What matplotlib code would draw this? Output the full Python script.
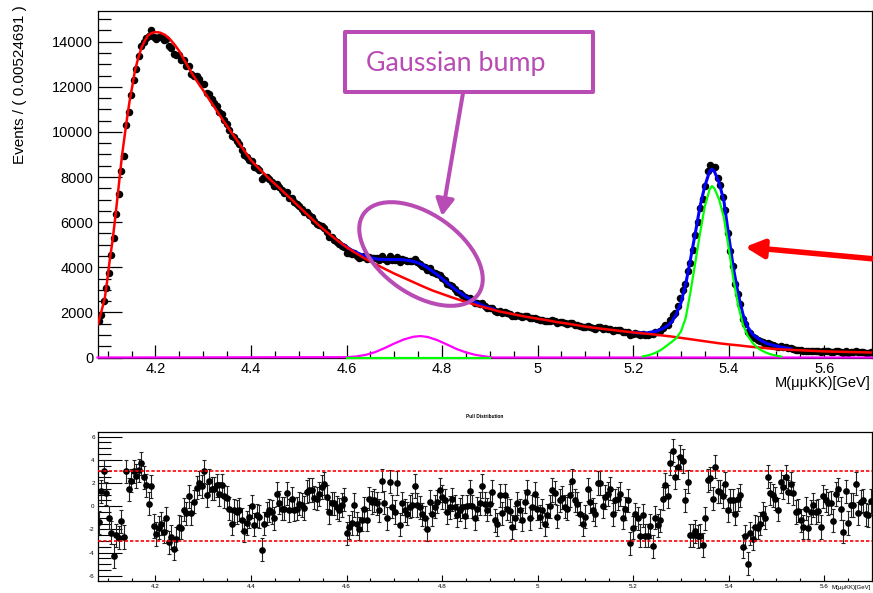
import numpy as np
import matplotlib
matplotlib.use("Agg")
import matplotlib.pyplot as plt
from matplotlib.patches import Ellipse, Rectangle
from matplotlib.ticker import MultipleLocator

plt.rcParams['font.family'] = ['Liberation Sans', 'DejaVu Sans']
plt.rcParams['axes.unicode_minus'] = False

# ============================================
# DATA
# ============================================

BIN_WIDTH = 0.00524691
X_LO, X_HI = 4.0787, 5.70

# events per bin, top panel
events = [
    1600, 1900, 2500, 3100, 3750, 4550, 5300, 6350, 7250, 8250, 8950,
    10300, 10900, 11650, 12300, 12800, 13350, 13800, 14000, 14150, 14250,
    14500, 14200, 14130, 14190, 14210, 14070, 14140, 13790, 13730, 13470,
    13430, 13390, 13200, 13180, 12940, 12910, 12560, 12490, 12460, 12340,
    12140, 12120, 11720, 11700, 11450, 11280, 11140, 10890, 10800, 10530,
    10360, 10100, 9810, 9770, 9600, 9460, 9220, 8970, 8870, 8770,
    8710, 8450, 8410, 8290, 7920, 8010, 7980, 7900, 7780, 7620,
    7700, 7550, 7410, 7310, 7320, 7090, 7070, 6890, 6790, 6720,
    6570, 6440, 6430, 6330, 6210, 6040, 5940, 5870, 5820, 5750,
    5560, 5360, 5330, 5230, 5110, 5010, 4950, 4900, 4620, 4620,
    4590, 4650, 4500, 4430, 4440, 4480, 4370, 4460, 4420, 4410,
    4390, 4330, 4490, 4370, 4270, 4480, 4340, 4300, 4470, 4230,
    4350, 4300, 4270, 4290, 4280, 4350, 4220, 4160, 4070, 3990,
    3860, 3950, 3790, 3750, 3690, 3670, 3540, 3430, 3280, 3210,
    3160, 3030, 2910, 2850, 2790, 2680, 2650, 2650, 2530, 2410,
    2400, 2380, 2400, 2270, 2210, 2200, 2190, 2040, 2000, 2080,
    1990, 2030, 1960, 1930, 1840, 1860, 1890, 1840, 1790, 1840,
    1840, 1730, 1750, 1770, 1710, 1660, 1670, 1600, 1620, 1630,
    1670, 1640, 1530, 1570, 1560, 1520, 1490, 1520, 1540, 1460,
    1430, 1390, 1330, 1340, 1410, 1350, 1310, 1280, 1370, 1360,
    1270, 1290, 1280, 1280, 1190, 1220, 1210, 1210, 1130, 1140,
    1150, 1010, 1050, 1080, 1060, 1000, 1040, 1010, 1010, 1060,
    1020, 1130, 1130, 1190, 1300, 1420, 1460, 1675, 1880, 1980,
    2300, 2620, 3010, 3250, 3830, 4190, 4780, 5410, 5990, 6620,
    7010, 7610, 8280, 8540, 8390, 8460, 7970, 7640, 7120, 6560,
    5530, 4730, 4040, 3280, 2830, 2380, 1710, 1500, 1140, 1090,
    920, 870, 790, 720, 680, 610, 660, 590, 560, 525,
    480, 505, 475, 470, 425, 420, 390, 345, 340, 315,
    290, 310, 270, 290, 290, 275, 275, 245, 285, 275,
    270, 265, 240, 273, 277, 248, 214, 266, 221, 244,
    242, 267, 226, 239, 239, 217, 214, 231,
]

# pull per bin, bottom panel
pulls = [
    -1.38, 1.3, 3.0, 1.1, -1.0, -2.3, -4.3, -2.5, -2.7, -1.3, -2.65,
    3.0, 1.45, 2.2, 3.0, 2.6, 3.1, 3.7, 2.5, 1.8, 0.2,
    1.7, -1.7, -2.4, -1.85, -1.5, -2.2, -1.05, -3.1, -2.65, -3.65,
    -2.8, -1.8, -1.85, -0.3, -0.6, 0.85, -0.6, 0.4, 1.6, 2.0,
    1.7, 3.0, 0.95, 2.2, 1.5, 1.5, 1.8, 1.05, 1.8, 0.85,
    0.75, -0.2, -1.5, -0.35, -0.5, -0.3, -1.15, -2.1, -1.45, -0.9,
    0.0, -1.6, -0.8, -0.9, -3.75, -1.5, -0.65, -0.35, -0.5, -1.05,
    1.05, 0.3, -0.2, -0.2, 1.1, -0.35, 0.65, -0.3, -0.2, 0.2,
    0.1, -0.15, 1.25, 1.4, 1.4, 0.75, 0.65, 1.05, 1.65, 1.95,
    0.8, -0.5, 0.25, 0.25, -0.1, -0.3, 0.1, 0.6, -2.35, -1.8,
    -1.45, 0.1, -1.5, -1.95, -1.15, -0.2, -1.15, 0.65, 0.35, 0.5,
    0.25, -0.35, 2.2, 0.3, -1.05, 2.1, -0.05, -0.5, 2.0, -1.6,
    0.25, -0.35, -0.65, -0.05, 0.1, 1.75, 0.1, -0.1, -0.7, -1.0,
    -2.0, 0.4, -0.7, -0.05, 0.4, 1.4, 0.8, 0.5, -0.5, -0.1,
    0.6, -0.05, -0.8, -0.3, -0.05, -0.85, 0.0, 1.3, 0.0, -1.05,
    -0.2, 0.25, 1.75, 0.2, -0.3, 0.2, 1.25, -1.2, -1.55, 0.95,
    -0.6, 0.95, -0.2, -0.4, -1.8, -1.0, 0.25, -0.35, -1.15, 0.4,
    1.25, -1.05, -0.05, 1.05, -0.2, -0.9, -0.35, -1.55, -0.8, 0.0,
    1.4, 1.15, -0.9, 0.5, 0.75, -0.05, -0.2, 0.95, 2.2, 0.5,
    0.2, -0.65, -1.55, -0.9, 1.45, 0.4, -0.3, -0.7, 2.0, 2.0,
    0.0, 0.8, 1.05, 1.5, -0.7, 0.5, 0.65, 1.05, -1.0, -0.2,
    0.5, -3.2, -1.85, -0.7, -1.05, -2.55, -0.8, -2.55, -2.55, -1.7,
    -3.45, -1.0, -1.65, -1.2, 0.65, 1.85, 0.85, 3.7, 4.8, 2.5,
    3.35, 4.25, 3.9, 0.5, 2.1, -2.5, -2.5, -2.15, -2.6, -2.55,
    -3.35, -1.05, 2.25, 2.4, 0.65, 3.4, 1.3, 1.25, 0.85, 1.95,
    -0.35, 0.5, 0.5, -0.65, 0.6, 0.95, -3.5, -2.6, -4.95, -2.35,
    -2.8, -1.8, -1.85, -1.5, -0.65, -1.0, 2.55, 1.1, 0.95, 0.65,
    -0.3, 2.1, 1.65, 2.55, 1.25, 1.95, 1.1, -0.5, -0.4, -1.2,
    -1.8, -0.2, -1.85, -0.5, 0.1, -0.5, -0.4, -1.8, 0.85, 0.5,
    0.25, 0.3, -1.25, 1.05, 1.45, -0.2, -2.2, 1.3, -1.45, 0.1,
    0.1, 1.95, -0.6, 0.4, 0.5, -0.7, -0.8, 0.45,
]

# background fit (red)
red_x = [4.0787, 4.080, 4.087, 4.094, 4.099, 4.104, 4.110, 4.115, 4.120, 4.125,
         4.130, 4.136, 4.141, 4.146, 4.152, 4.157, 4.164, 4.171, 4.178, 4.184,
         4.190, 4.195, 4.200, 4.205, 4.210, 4.220, 4.230, 4.240, 4.250, 4.260,
         4.270, 4.280, 4.290, 4.300, 4.320, 4.340, 4.360, 4.380, 4.400, 4.420,
         4.440, 4.460, 4.480, 4.500, 4.520, 4.540, 4.560, 4.580, 4.600, 4.620,
         4.640, 4.660, 4.680, 4.700, 4.720, 4.740, 4.760, 4.780, 4.800, 4.820,
         4.840, 4.860, 4.880, 4.900, 4.920, 4.940, 4.960, 4.980, 5.000, 5.020,
         5.040, 5.060, 5.080, 5.100, 5.120, 5.140, 5.160, 5.180, 5.200, 5.220,
         5.240, 5.260, 5.280, 5.300, 5.320, 5.340, 5.360, 5.380, 5.400, 5.420,
         5.440, 5.460, 5.480, 5.500, 5.520, 5.550, 5.600, 5.650, 5.700]
red_y = [1450, 1520, 2050, 2640, 3400, 4270, 5150, 6040, 7000, 7970,
         8950, 9900, 10680, 11380, 12080, 12710, 13280, 13750, 14050, 14270,
         14360, 14400, 14420, 14415, 14400, 14300, 14120, 13870, 13580, 13200,
         12820, 12470, 12150, 11840, 11210, 10560, 9950, 9350, 8740, 8310,
         7890, 7500, 7100, 6700, 6290, 5900, 5540, 5200, 4890, 4620,
         4370, 4140, 3930, 3720, 3530, 3340, 3150, 2970, 2820, 2670,
         2530, 2400, 2270, 2160, 2040, 1960, 1870, 1790, 1720, 1650,
         1570, 1510, 1440, 1370, 1310, 1260, 1210, 1160, 1110, 1070,
         1030, 980, 930, 870, 810, 750, 690, 630, 580, 540,
         490, 450, 410, 370, 350, 320, 270, 245, 220]

# total fit (blue), bump region and peak region
blue_bump_x = [4.59, 4.60, 4.61, 4.62, 4.63, 4.64, 4.65, 4.66, 4.67, 4.68,
               4.69, 4.70, 4.71, 4.72, 4.73, 4.74, 4.75, 4.76, 4.77, 4.78,
               4.79, 4.80, 4.81, 4.82, 4.83, 4.84, 4.85, 4.86, 4.87, 4.88,
               4.89, 4.90, 4.91]
blue_bump_y = [5040, 4905, 4770, 4665, 4570, 4485, 4420, 4380, 4350, 4350,
               4340, 4340, 4340, 4330, 4300, 4260, 4190, 4100, 3970, 3820,
               3670, 3500, 3320, 3150, 2980, 2830, 2690, 2570, 2450, 2350,
               2260, 2190, 2130]
blue_peak_x = [5.20, 5.21, 5.22, 5.23, 5.24, 5.25, 5.26, 5.27, 5.28, 5.29,
               5.30, 5.31, 5.32, 5.33, 5.34, 5.35, 5.36, 5.365, 5.37, 5.38,
               5.39, 5.40, 5.41, 5.42, 5.43, 5.44, 5.45, 5.46, 5.47, 5.48,
               5.49, 5.50, 5.51, 5.52, 5.53]
blue_peak_y = [1110, 1090, 1090, 1090, 1130, 1180, 1260, 1380, 1560, 1900,
               2420, 3250, 4350, 5500, 6700, 7600, 8250, 8350, 8250, 7750,
               6930, 5400, 3950, 2800, 1900, 1350, 1030, 860, 720, 620,
               560, 510, 460, 420, 390]

# signal (green)
green_x = [5.22, 5.23, 5.24, 5.25, 5.26, 5.27, 5.28, 5.29, 5.30, 5.31,
           5.32, 5.33, 5.34, 5.35, 5.36, 5.365, 5.37, 5.38, 5.39, 5.40,
           5.41, 5.42, 5.43, 5.44, 5.45, 5.46, 5.47, 5.48, 5.49, 5.50, 5.51]
green_y = [45, 90, 150, 240, 360, 520, 680, 850, 1150, 1750,
           2900, 4200, 5500, 6700, 7450, 7600, 7500, 7000, 6200, 4850,
           3450, 2300, 1450, 950, 650, 430, 300, 200, 130, 80, 40]
green_flat_x = [4.60, 4.90]
green_flat_y = [0, 0]

# gaussian bump (magenta)
magenta_x = [4.0787, 4.60, 4.62, 4.64, 4.66, 4.68, 4.70, 4.72, 4.74, 4.755,
             4.77, 4.79, 4.81, 4.83, 4.85, 4.87, 4.89, 4.905, 5.70]
magenta_y = [0, 15, 45, 115, 240, 420, 620, 800, 920, 950,
             910, 770, 580, 380, 225, 115, 50, 0, 0]

PULL_BAND = 3

# ============================================
# LAYOUT HELPERS
# ============================================

W, H = 873, 593
PURPLE = '#b84bb4'


def px_rect(left, top, right, bottom):
    """Axes rectangle in figure fractions from pixel edges."""
    return [left / W, 1 - bottom / H, (right - left) / W, (bottom - top) / H]


fig = plt.figure(figsize=(W / 100, H / 100), dpi=100)
fig.patch.set_facecolor('white')

bin_centers = X_LO + BIN_WIDTH * (np.arange(len(events)) + 0.5)

# ============================================
# TOP PANEL
# ============================================

ax = fig.add_axes(px_rect(97.5, 11, 872, 357.5))
ax.plot(bin_centers, events, 'o', ms=4.4, color='black', zorder=2)
ax.plot(blue_bump_x, blue_bump_y, color='#0000ff', lw=2.2, zorder=3)
ax.plot(blue_peak_x, blue_peak_y, color='#0000ff', lw=2.2, zorder=3)
ax.plot(red_x, red_y, color='#ff0000', lw=1.8, zorder=4)
ax.plot(magenta_x, magenta_y, color='#ff00ff', lw=1.6, zorder=5, clip_on=False)
ax.plot(green_flat_x, green_flat_y, color='#00ff00', lw=1.6, zorder=5, clip_on=False)
ax.plot(green_x, green_y, color='#00ff00', lw=1.6, zorder=5)

ax.set_xlim(X_LO, X_HI)
ax.set_ylim(0, 15360)
ax.xaxis.set_major_locator(MultipleLocator(0.2))
ax.xaxis.set_minor_locator(MultipleLocator(0.05))
ax.yaxis.set_major_locator(MultipleLocator(2000))
ax.yaxis.set_minor_locator(MultipleLocator(500))
ax.xaxis.set_major_formatter(plt.FuncFormatter(lambda v, p: f"{v:g}"))
ax.tick_params(which='both', direction='in', width=0.9, labelsize=10.5, pad=3)
ax.tick_params(axis='y', which='major', length=17.5)
ax.tick_params(axis='y', which='minor', length=9.5)
ax.tick_params(axis='x', which='major', length=9.5)
ax.tick_params(axis='x', which='minor', length=4.7)
for s in ax.spines.values():
    s.set_linewidth(0.9)

fig.text(20 / W, 1 - 5 / H, 'Events / ( 0.00524691 )', rotation=90,
         ha='center', va='top', fontsize=11)
fig.text(870 / W, 1 - 383 / H, 'M(μμKK)[GeV]', ha='right', va='center', fontsize=10.5)

# ============================================
# PULL PANEL
# ============================================

ax2 = fig.add_axes(px_rect(97.5, 432, 872, 581))
ax2.errorbar(bin_centers, pulls, yerr=1, fmt='o', ms=3.8, color='black',
             ecolor='#222222', elinewidth=0.8, capsize=1.5, capthick=0.8, zorder=3)
ax2.axhline(PULL_BAND, color='#ff0000', lw=1.2, ls=(0, (2, 1.2)), zorder=4)
ax2.axhline(-PULL_BAND, color='#ff0000', lw=1.2, ls=(0, (2, 1.2)), zorder=4)
ax2.set_xlim(X_LO, X_HI)
ax2.set_ylim(-6.45, 6.4)
ax2.xaxis.set_major_locator(MultipleLocator(0.2))
ax2.xaxis.set_minor_locator(MultipleLocator(0.05))
ax2.yaxis.set_major_locator(MultipleLocator(2))
ax2.yaxis.set_minor_locator(MultipleLocator(0.5))
ax2.xaxis.set_major_formatter(plt.FuncFormatter(lambda v, p: f"{v:g}"))
ax2.tick_params(which='both', direction='in', width=0.8, labelsize=4.5, pad=2)
ax2.tick_params(axis='y', which='major', length=17.5)
ax2.tick_params(axis='y', which='minor', length=9.5)
ax2.tick_params(axis='x', which='major', length=4.5)
ax2.tick_params(axis='x', which='minor', length=2.2)
for s in ax2.spines.values():
    s.set_linewidth(0.9)

fig.text(485 / W, 1 - 417 / H, 'Pull Distribution', ha='center', va='center',
         fontsize=3.4, fontweight='bold')
fig.text(871 / W, 1 - 585.5 / H, 'M(μμKK)[GeV]', ha='right', va='top', fontsize=4.3)

# ============================================
# ANNOTATIONS (pixel coordinates)
# ============================================

ov = fig.add_axes([0, 0, 1, 1])
ov.set_xlim(0, W)
ov.set_ylim(H, 0)
ov.axis('off')

ov.add_patch(Rectangle((345, 32), 248, 60, fill=False, edgecolor=PURPLE,
                       lw=2.9, joinstyle='round'))
ov.text(366, 63, 'Gaussian bump', ha='left', va='center', color=PURPLE,
        fontsize=19.3, family=['Lato', 'DejaVu Sans'])
ov.annotate('', xy=(442, 216), xytext=(463, 93),
            arrowprops=dict(arrowstyle='-|>,head_length=1.0,head_width=0.55',
                            lw=2.9, color=PURPLE, shrinkA=0, shrinkB=0))
ov.add_patch(Ellipse((421, 254), 140, 80, angle=35, fill=False,
                     edgecolor=PURPLE, lw=2.9))
ov.annotate('', xy=(745, 247), xytext=(875, 259),
            arrowprops=dict(arrowstyle='-|>,head_length=1.1,head_width=0.55',
                            lw=4, color='#ff0000', shrinkA=0, shrinkB=0))

fig.savefig('out.png', dpi=100)
plt.close(fig)
